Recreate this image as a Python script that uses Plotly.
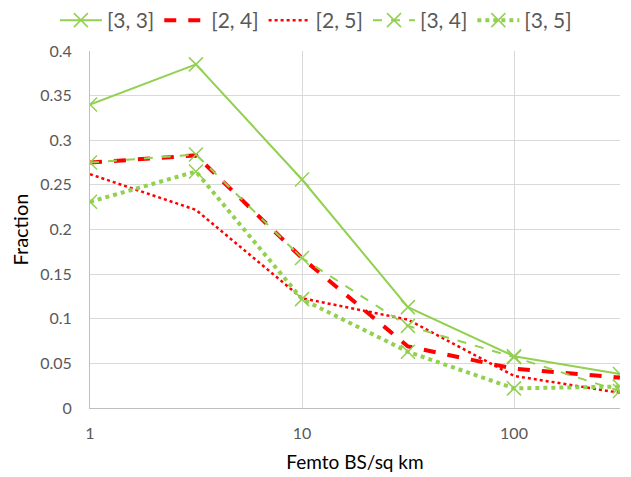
import plotly.graph_objects as go

# femto base-station density (per sq km), half-decade steps
density = [1, 3.16, 10, 31.6, 100, 316]

frac_33 = [0.340, 0.385, 0.256, 0.113, 0.058, 0.038]
frac_24 = [0.275, 0.283, 0.168, 0.069, 0.044, 0.034]
frac_25 = [0.262, 0.222, 0.123, 0.099, 0.036, 0.017]
frac_34 = [0.275, 0.284, 0.168, 0.092, 0.057, 0.019]
frac_35 = [0.231, 0.265, 0.122, 0.063, 0.022, 0.024]

green = "#92D050"
light_green = "#C4E5A3"
red = "#FF0000"

fig = go.Figure()
fig.add_trace(go.Scatter(
	x=density, y=frac_33, name="[3, 3]", mode="lines+markers",
	line=dict(color=green, width=2),
	marker=dict(symbol="x-thin-open", size=14, line=dict(color=green, width=1.5))))
fig.add_trace(go.Scatter(
	x=density, y=frac_24, name="[2, 4]", mode="lines",
	line=dict(color=red, width=4, dash="dash")))
fig.add_trace(go.Scatter(
	x=density, y=frac_25, name="[2, 5]", mode="lines",
	line=dict(color=red, width=2.5, dash="dot")))
fig.add_trace(go.Scatter(
	x=density, y=frac_34, name="[3, 4]", mode="lines+markers",
	line=dict(color=green, width=2, dash="dash"),
	marker=dict(symbol="x-thin-open", size=14, line=dict(color=light_green, width=1.5))))
fig.add_trace(go.Scatter(
	x=density, y=frac_35, name="[3, 5]", mode="lines+markers",
	line=dict(color=green, width=4, dash="dot"),
	marker=dict(symbol="x-thin-open", size=14, line=dict(color=light_green, width=1.5))))

fig.update_layout(
	width=631, height=477,
	margin=dict(l=90, r=11, t=51, b=69, autoexpand=False),
	paper_bgcolor="white", plot_bgcolor="white",
	font=dict(family="Lato", size=16, color="#595959"),
	legend=dict(orientation="h", x=0.087, xanchor="left", xref="container",
		y=1.0, yanchor="top", yref="container", font=dict(size=21),
		itemwidth=42, traceorder="normal", tracegroupgap=0),
	xaxis=dict(
		type="log", range=[0, 2.5], tickvals=[1, 10, 100], ticktext=["1", "10", "100"],
		showgrid=True, gridcolor="#D9D9D9", gridwidth=1,
		showline=True, linecolor="#BFBFBF", linewidth=1, ticks="",
		title=dict(text="Femto BS/sq km", font=dict(size=19, color="black"), standoff=14),
		ticklabelstandoff=11),
	yaxis=dict(
		range=[0, 0.4], dtick=0.05, tickformat="~g",
		showgrid=True, gridcolor="#D9D9D9", gridwidth=1,
		showline=True, linecolor="#BFBFBF", linewidth=1, ticks="",
		zeroline=False, ticklabelstandoff=14,
		title=dict(text="Fraction", font=dict(size=20, color="black"), standoff=6)),
)

# the page body has a default margin; drop it so the chart sits at the corner
fig.write_html("out.html", config={"displayModeBar": False},
	post_script="document.body.style.margin='0';")
